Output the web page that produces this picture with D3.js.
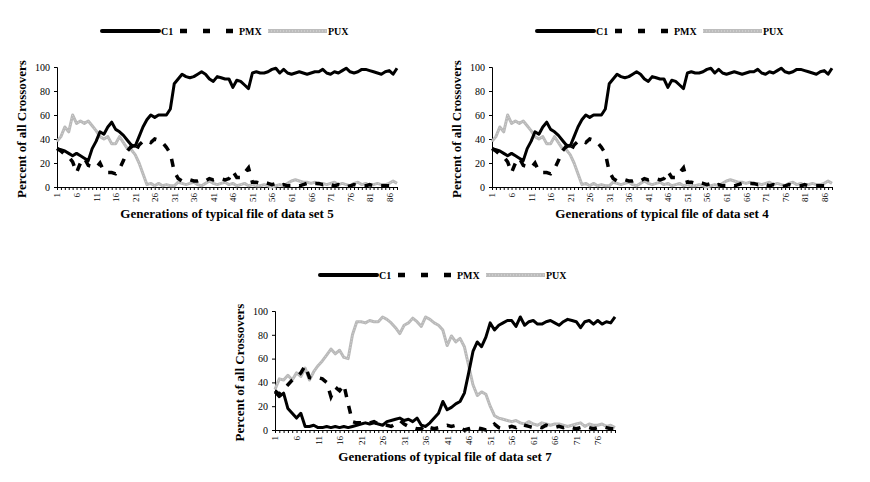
<!DOCTYPE html>
<html>
<head>
<meta charset="utf-8">
<script src="https://cdn.jsdelivr.net/npm/d3@7"></script>
<style>
  body { margin: 0; background: #fff; }
  svg { display: block; }
</style>
</head>
<body>
<svg id="svg0" width="870" height="482"></svg>
<script>

// crossover share per generation
var c1Set5 = [32,31,30,28,26,28,26,24,22,32, 38,46,44,50,54,48,46,43,39,35,
              34,42,50,56,60,58,60,60,60,65, 86,90,94,92,91,92,94,96,94,90,
              88,92,91,90,90,83,89,88,85,82, 95,96,95,95,96,98,99,95,98,95,
              94,95,96,95,94,95,96,96,98,95, 94,96,95,97,99,96,95,96,98,98,
              97,96,95,94,96,97,94,99];
var pmxSet5 = [32,30,27,25,21,12,20,24,18,17, 16,20,13,12,12,11,15,22,30,34,
               29,35,38,39,37,40,39,37,33,28, 13,7,5,6,6,5,5,6,5,7,
               6,7,7,6,7,13,8,8,12,16, 4,4,3,4,3,2,3,1,2,1,
               1,2,1,2,3,2,3,3,2,3, 2,1,2,1,0,1,2,1,1,1,
               2,1,1,1,1,1,0,1];
var puxSet5 = [38,42,50,46,60,53,55,53,55,51, 47,42,40,42,36,36,42,37,32,31,
               27,20,11,2,3,1,3,1,2,1, 1,4,3,2,3,4,2,1,3,5,
               3,2,3,4,2,3,1,2,3,1, 2,1,1,2,1,0,1,2,1,3,
               5,6,5,4,4,3,4,2,3,2, 3,4,2,3,2,1,3,4,2,3,
               1,2,3,2,2,3,5,3];

// data set 4 plots the same curves as data set 5
var c1Set4 = c1Set5;
var pmxSet4 = pmxSet5;
var puxSet4 = puxSet5;

var c1Set7 = [32,28,31,18,14,10,14,3,3,4, 2,2,3,2,3,2,3,2,3,4,
              5,6,5,6,5,4,7,8,9,10, 8,9,7,10,4,3,6,10,14,24,
              17,19,22,24,31,48,66,74,70,78, 90,84,88,90,92,92,87,95,88,91,
              92,89,89,91,92,90,88,91,93,92, 91,86,91,92,89,92,89,91,90,95];
var pmxSet7 = [33,30,34,38,42,44,48,54,44,43, 44,43,40,28,36,33,38,22,7,6,
               6,7,6,7,5,5,4,3,5,8, 5,3,2,1,1,4,2,1,2,3,
               4,3,4,2,0,1,2,2,1,0, 1,5,2,1,2,3,2,5,4,3,
               2,3,2,4,3,2,3,2,3,2, 1,2,3,2,1,2,3,2,1,1];
var puxSet7 = [34,43,42,46,42,48,45,52,42,49, 54,58,63,68,64,67,61,60,80,91,
               91,90,92,91,91,95,93,90,86,81, 88,90,94,91,87,95,93,90,88,84,
               71,79,74,77,70,54,38,29,32,30, 20,12,10,9,8,7,8,6,5,7,
               5,4,6,5,4,5,5,4,3,4, 5,6,3,5,4,4,5,3,4,2];

var seriesNames = ['C1', 'PMX', 'PUX'];
var yTicks = [0, 20, 40, 60, 80, 100];

var serif = '"Liberation Serif", "Times New Roman", serif';

var svg0 = d3.select('#svg0');

function drawChart(box, setNo, c1, pmx, pux) {
    var gens = d3.range(1, c1.length + 1);
    var g = svg0.append('g');

    var x = d3.scalePoint().domain(gens).range([box.left, box.right]);
    var y = d3.scaleLinear().domain([0, 100]).range([box.bottom, box.top]);

    // x axis: a tick per generation, label every fifth
    var xAxis = g.append('g')
        .attr('transform', 'translate(0,' + box.bottom + ')')
        .call(d3.axisBottom(x)
            .tickValues(gens)
            .tickSize(3)
            .tickFormat(function(d) { return (d - 1) % 5 == 0 ? d : ''; }));
    xAxis.select('.domain').attr('stroke', '#000');
    xAxis.selectAll('text')
        .attr('transform', 'rotate(-90)')
        .attr('x', -6)
        .attr('y', 0)
        .attr('dy', '0.33em')
        .attr('text-anchor', 'end')
        .attr('font-family', serif)
        .attr('font-size', 9)
        .attr('fill', '#000');

    var yAxis = g.append('g')
        .attr('transform', 'translate(' + box.left + ',0)')
        .call(d3.axisLeft(y).tickValues(yTicks).tickSize(3).tickPadding(4));
    yAxis.select('.domain').attr('stroke', '#000');
    yAxis.selectAll('text')
        .attr('font-family', serif)
        .attr('font-size', 10)
        .attr('fill', '#000');

    var line = d3.line()
        .x(function(d, i) { return x(gens[i]); })
        .y(function(d) { return y(d); });

    // PUX first so the black lines sit on top
    g.append('path').datum(pux)
        .attr('d', line)
        .attr('fill', 'none')
        .attr('stroke', '#b9b9b9')
        .attr('stroke-width', 3)
        .attr('stroke-linejoin', 'round');
    g.append('path').datum(pux)
        .attr('d', line)
        .attr('fill', 'none')
        .attr('stroke', '#d6d6d6')
        .attr('stroke-width', 1)
        .attr('stroke-dasharray', '1,2');

    g.append('path').datum(pmx)
        .attr('d', line)
        .attr('fill', 'none')
        .attr('stroke', '#000')
        .attr('stroke-width', 3.5)
        .attr('stroke-dasharray', '8,9');

    g.append('path').datum(c1)
        .attr('d', line)
        .attr('fill', 'none')
        .attr('stroke', '#000')
        .attr('stroke-width', 3)
        .attr('stroke-linejoin', 'round');

    // axis titles
    g.append('text')
        .attr('transform', 'translate(' + (box.left - 31) + ',' + ((box.top + box.bottom) / 2 + 2) + ') rotate(-90)')
        .attr('text-anchor', 'middle')
        .attr('font-family', serif)
        .attr('font-weight', 'bold')
        .attr('font-size', 13)
        .text('Percent of all Crossovers');

    g.append('text')
        .attr('x', (box.left + box.right) / 2)
        .attr('y', box.bottom + 31)
        .attr('text-anchor', 'middle')
        .attr('font-family', serif)
        .attr('font-weight', 'bold')
        .attr('font-size', 13)
        .text('Generations of typical file of data set ' + setNo);

    // legend
    var lg = g.append('g')
        .attr('transform', 'translate(' + (box.left + 45) + ',' + box.legendY + ')');
    var offsets = [0, 78, 166];
    seriesNames.forEach(function(name, k) {
        var item = lg.append('g').attr('transform', 'translate(' + offsets[k] + ',0)');
        if (k == 0) {
            item.append('line').attr('x1', 0).attr('x2', 57)
                .attr('stroke', '#000').attr('stroke-width', 4)
                .attr('stroke-linecap', 'round');
        } else if (k == 1) {
            item.append('line').attr('x1', 0).attr('x2', 57)
                .attr('stroke', '#000').attr('stroke-width', 4.5)
                .attr('stroke-dasharray', '7,16');
        } else {
            item.append('line').attr('x1', 0).attr('x2', 59)
                .attr('stroke', '#bdbdbd').attr('stroke-width', 4);
            item.append('line').attr('x1', 0).attr('x2', 59)
                .attr('stroke', '#dcdcdc').attr('stroke-width', 1)
                .attr('stroke-dasharray', '1,2');
        }
        item.append('text')
            .attr('x', k == 2 ? 60 : 59)
            .attr('y', 4)
            .attr('font-family', serif)
            .attr('font-weight', 'bold')
            .attr('font-size', 10)
            .text(name);
    });
}

drawChart({left: 57, right: 397, top: 67, bottom: 187, legendY: 31}, 5, c1Set5, pmxSet5, puxSet5);
drawChart({left: 492, right: 832, top: 67, bottom: 187, legendY: 31}, 4, c1Set4, pmxSet4, puxSet4);
drawChart({left: 275, right: 615, top: 311, bottom: 430, legendY: 275}, 7, c1Set7, pmxSet7, puxSet7);

</script>
</body>
</html>
